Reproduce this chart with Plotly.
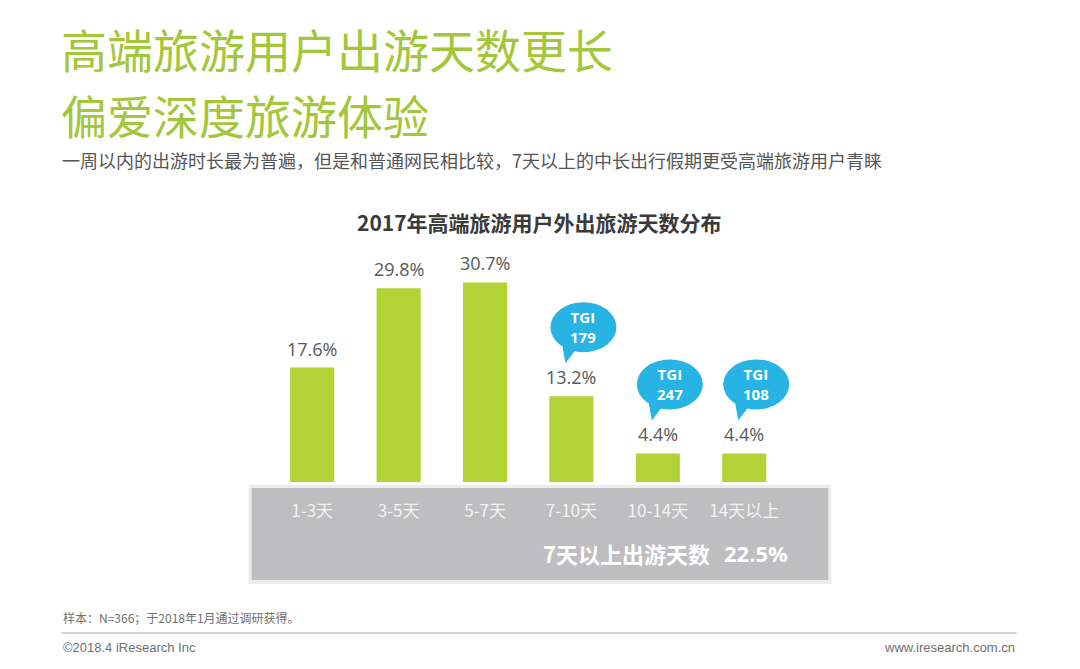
import plotly.graph_objects as go

# ---------------- data ----------------
categories = ["1-3天", "3-5天", "5-7天", "7-10天", "10-14天", "14天以上"]
shares = [17.6, 29.8, 30.7, 13.2, 4.4, 4.4]
share_labels = ["17.6%", "29.8%", "30.7%", "13.2%", "4.4%", "4.4%"]
tgi_categories = ["7-10天", "10-14天", "14天以上"]
tgi_values = [179, 247, 108]
summary_label = "7天以上出游天数"
summary_value = 22.5

title_lines = ["高端旅游用户出游天数更长", "偏爱深度旅游体验"]
subtitle = "一周以内的出游时长最为普遍，但是和普通网民相比较，7天以上的中长出行假期更受高端旅游用户青睐"
chart_title = "2017年高端旅游用户外出旅游天数分布"
footnote = "样本：N=366；于2018年1月通过调研获得。"
copyright_text = "©2018.4 iResearch Inc"
url_text = "www.iresearch.com.cn"

# ---------------- layout geometry ----------------
OFF = 8  # page body margin in the browser
W, H = 1080, 669
UNIT_W = 86.3
L = 269.35 - OFF
PW = UNIT_W * 6.4          # x range [-0.5, 5.9]
R = W - L - PW
T = 200 - OFF
PLOT_BOTTOM = 482 - OFF
B = H - PLOT_BOTTOM
PH = PLOT_BOTTOM - T
PX_PER_UNIT = 6.5
YMAX = PH / PX_PER_UNIT

def px(x):
    return (x - OFF - L) / PW

def py(y):
    return (PLOT_BOTTOM - (y - OFF)) / PH

GREEN_TITLE = "#a4c63b"
BAR = "#b2d235"
BUBBLE = "#27b4e4"
CJK = "Noto Sans CJK SC"

fig = go.Figure()
fig.add_trace(go.Bar(
    x=categories, y=shares, width=0.51,
    marker=dict(color=BAR, line=dict(width=0)),
    hoverinfo="skip",
))

annotations = []
shapes = []

# value labels
for c, v, lab in zip(categories, shares, share_labels):
    annotations.append(dict(
        x=c, y=v, xref="x", yref="y", text=lab, showarrow=False,
        yanchor="bottom", yshift=5,
        font=dict(family="Open Sans", size=18, color="#595959"),
    ))

# TGI bubbles
for c, t in zip(tgi_categories, tgi_values):
    v = shares[categories.index(c)]
    shapes.append(dict(
        type="circle", xref="x", yref="y", xsizemode="pixel", ysizemode="pixel",
        xanchor=c, yanchor=v, x0=-21, x1=45, y0=44, y1=94,
        fillcolor=BUBBLE, line=dict(width=0), layer="above",
    ))
    shapes.append(dict(
        type="path", xref="x", yref="y", xsizemode="pixel", ysizemode="pixel",
        xanchor=c, yanchor=v, path="M -9,50 L 7,50 L -6,33 Z",
        fillcolor=BUBBLE, line=dict(width=0), layer="above",
    ))
    annotations.append(dict(
        x=c, y=v, xref="x", yref="y", text=f"<b>TGI<br>{t}</b>", showarrow=False,
        xshift=12, yshift=69, yanchor="middle",
        font=dict(family="Open Sans", size=15, color="white"),
    ))

# grey panel with soft border
shapes.append(dict(
    type="rect", xref="paper", yref="paper",
    x0=px(249), x1=px(831), y0=py(485), y1=py(584),
    fillcolor="#ededed", line=dict(width=0), layer="below",
))
shapes.append(dict(
    type="rect", xref="paper", yref="paper",
    x0=px(252), x1=px(828), y0=py(488), y1=py(580),
    fillcolor="#bebec0", line=dict(width=0), layer="below",
))

# summary text in panel
annotations.append(dict(
    x=px(626), y=py(553), xref="paper", yref="paper", text=f"<b>{summary_label}</b>",
    showarrow=False, xanchor="center", yanchor="middle",
    font=dict(family=CJK, size=22, color="white"),
))
annotations.append(dict(
    x=px(756), y=py(553), xref="paper", yref="paper", text=f"<b>{summary_value}%</b>",
    showarrow=False, xanchor="center", yanchor="middle",
    font=dict(family="Open Sans", size=22, color="white"),
))

# titles (two separate lines)
for yc, line in zip([48, 114], title_lines):
    annotations.append(dict(
        x=px(60), y=py(yc), xref="paper", yref="paper", text=line,
        showarrow=False, xanchor="left", yanchor="middle", align="left",
        font=dict(family=CJK, size=46, color=GREEN_TITLE),
    ))
annotations.append(dict(
    x=px(61), y=py(160), xref="paper", yref="paper", text=subtitle,
    showarrow=False, xanchor="left", yanchor="middle",
    font=dict(family=CJK, size=18, color="#555555"),
))
annotations.append(dict(
    x=px(540), y=py(222), xref="paper", yref="paper", text=f"<b>{chart_title}</b>",
    showarrow=False, xanchor="center", yanchor="middle",
    font=dict(family=CJK, size=21, color="#3a3a3a"),
))

# footer
annotations.append(dict(
    x=px(62), y=py(617), xref="paper", yref="paper", text=footnote,
    showarrow=False, xanchor="left", yanchor="middle",
    font=dict(family=CJK, size=12, color="#707070"),
))
annotations.append(dict(
    x=px(62), y=py(647), xref="paper", yref="paper", text=copyright_text,
    showarrow=False, xanchor="left", yanchor="middle",
    font=dict(family="Liberation Sans Narrow, Liberation Sans", size=13, color="#707070"),
))
annotations.append(dict(
    x=px(1016), y=py(647), xref="paper", yref="paper", text=url_text,
    showarrow=False, xanchor="right", yanchor="middle",
    font=dict(family="Liberation Sans Narrow, Liberation Sans", size=13, color="#707070"),
))
shapes.append(dict(
    type="line", xref="paper", yref="paper",
    x0=px(62), x1=px(1016), y0=py(633), y1=py(633),
    line=dict(color="#a8a8a8", width=1), layer="below",
))

fig.update_layout(
    width=W, height=H,
    margin=dict(l=L, r=R, t=T, b=B, pad=0),
    paper_bgcolor="white", plot_bgcolor="white",
    showlegend=False,
    annotations=annotations, shapes=shapes,
    xaxis=dict(
        type="category", range=[-0.5, 5.9], showgrid=False, zeroline=False,
        showline=False, ticks="outside", ticklen=14, tickcolor="rgba(0,0,0,0)",
        tickfont=dict(family=CJK, size=17, color="#f2f2f2"),
        fixedrange=True,
    ),
    yaxis=dict(
        range=[0, YMAX], visible=False, fixedrange=True,
    ),
)

fig.write_html("out.html")
